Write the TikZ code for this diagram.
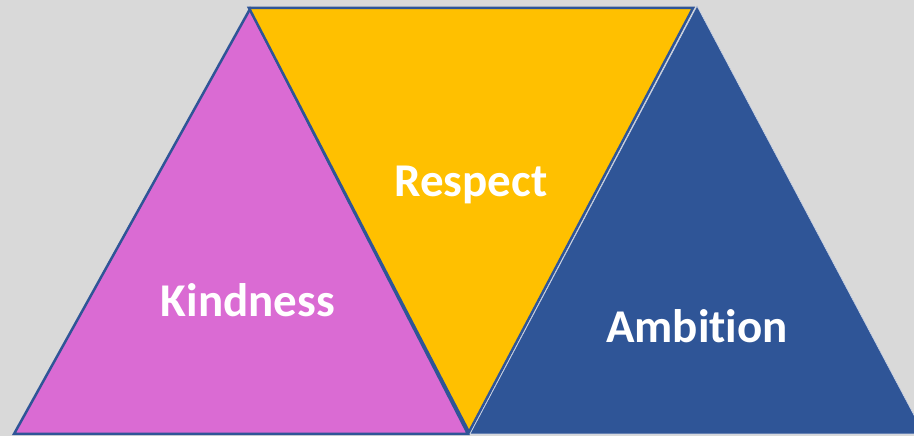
\documentclass[tikz,border=0pt]{standalone}
\usepackage{fontspec}
\setmainfont[Ligatures=NoCommon]{Carlito}
\definecolor{backgray}{HTML}{D9D9D9}
\definecolor{rimblue}{HTML}{2F5597}
\definecolor{kindpink}{HTML}{DA6BD3}
\definecolor{respyellow}{HTML}{FFC000}
\definecolor{ambblue}{HTML}{2F5597}

\begin{document}
\begin{tikzpicture}[x=1pt, y=1pt,
  rim/.style={draw=rimblue, line width=2.5pt, line join=miter},
  word/.style={text=white, anchor=base, font=\fontsize{47}{56}\selectfont\bfseries}]
  \fill[backgray] (0,0) rectangle (914,436);
  \clip (0,0) rectangle (914,436);
  % the three triangles
  \filldraw[kindpink, rim] (250,427) -- (14,2) -- (468,2) -- cycle;
  \filldraw[respyellow, rim] (249,428) -- (693,428) -- (469,4) -- cycle;
  \filldraw[ambblue, draw=white!75!ambblue, line width=0.6pt] (697,430) -- (470,2) -- (924,2) -- cycle;
  % labels
  \node[word] (kindness) at (248,119) {Kindness};
  \node[word] (respect) at (471,239) {Respect};
  \node[word] (ambition) at (697,93) {Ambition};
\end{tikzpicture}
\end{document}
